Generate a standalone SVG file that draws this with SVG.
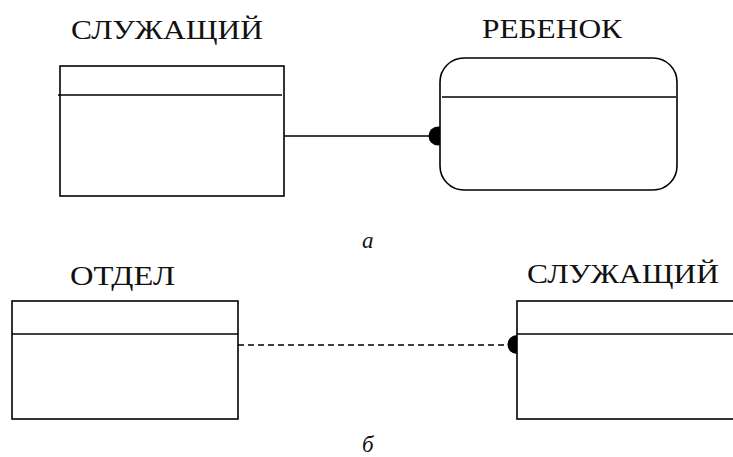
<svg xmlns="http://www.w3.org/2000/svg" width="733" height="457" viewBox="0 0 733 457">
  <style>
    .box { fill: #fff; stroke: #000; stroke-width: 1.6; }
    .div { stroke: #000; stroke-width: 1.6; fill: none; }
    .name { font-family: "Liberation Serif", "Times New Roman", serif; font-size: 27px; fill: #111; }
    .cap { font-family: "Liberation Serif", "Times New Roman", serif; font-size: 23px; font-style: italic; fill: #111; }
    .link { stroke: #000; stroke-width: 1.4; fill: none; }
    .dash { stroke-dasharray: 6 4; }
  </style>

  <!-- connectors -->
  <g id="connectors">
    <line class="link" x1="284" y1="136" x2="432" y2="136"/>
    <circle cx="438" cy="136" r="9.5" fill="#000"/>
    <line class="link dash" x1="238" y1="345" x2="506" y2="345"/>
    <path d="M517 335 A9.5 9.5 0 0 0 517 354 Z" fill="#000"/>
  </g>

  <!-- entity: СЛУЖАЩИЙ (a) -->
  <g id="employee-a">
    <text class="name" x="71" y="39" textLength="192" lengthAdjust="spacingAndGlyphs">СЛУЖАЩИЙ</text>
    <rect class="box" x="60" y="66" width="224" height="130"/>
    <line class="div" x1="58" y1="95" x2="282" y2="95"/>
  </g>

  <!-- entity: РЕБЕНОК (dependent, rounded corners) -->
  <g id="child">
    <text class="name" x="482" y="38" textLength="140" lengthAdjust="spacingAndGlyphs">РЕБЕНОК</text>
    <rect class="box" x="440" y="58" width="237" height="132" rx="24" ry="24"/>
    <line class="div" x1="442" y1="97" x2="676" y2="97"/>
  </g>

  <!-- entity: ОТДЕЛ -->
  <g id="department">
    <text class="name" x="70" y="285" textLength="105" lengthAdjust="spacingAndGlyphs">ОТДЕЛ</text>
    <rect class="box" x="12" y="301" width="226" height="118"/>
    <line class="div" x1="12" y1="334" x2="238" y2="334"/>
  </g>

  <!-- entity: СЛУЖАЩИЙ (б) -->
  <g id="employee-b">
    <text class="name" x="527" y="283" textLength="192" lengthAdjust="spacingAndGlyphs">СЛУЖАЩИЙ</text>
    <rect class="box" x="517" y="301" width="240" height="118"/>
    <line class="div" x1="517" y1="334" x2="757" y2="334"/>
  </g>

  <!-- sub-figure captions -->
  <text class="cap" x="362" y="248">а</text>
  <text class="cap" x="362" y="452">б</text>
</svg>
